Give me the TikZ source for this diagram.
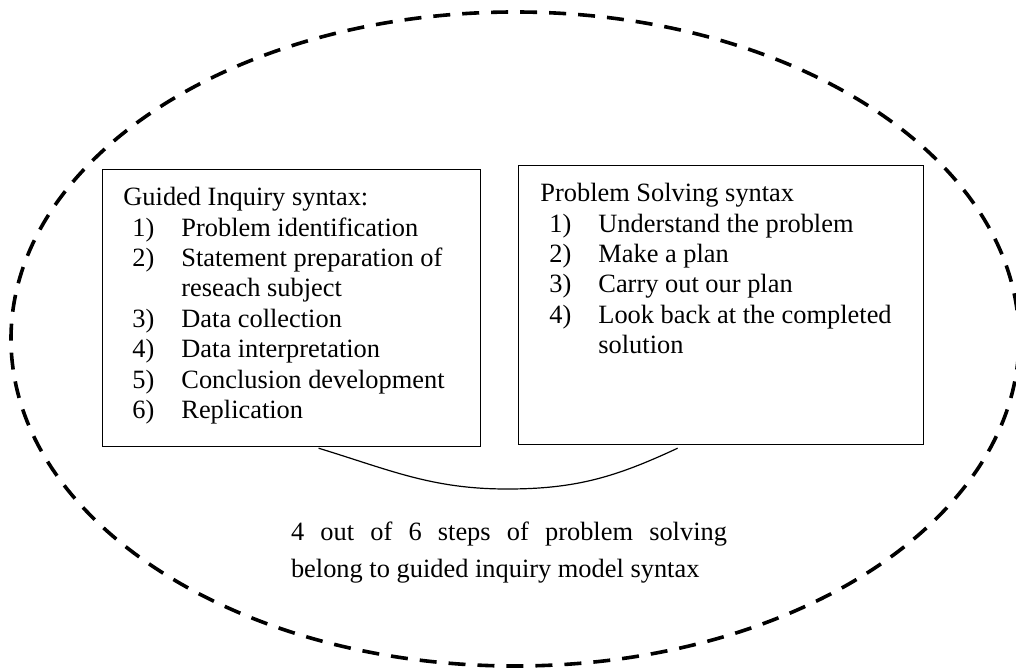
\documentclass[tikz,border=0pt]{standalone}
\usepackage{fontspec}
\setmainfont{Liberation Serif}
\usetikzlibrary{calc}

% numbered step inside a syntax box
\newcommand{\synitem}[2]{\hspace*{4.5pt}\makebox[24.5pt][l]{#1}#2}

\begin{document}
\begin{tikzpicture}[x=0.5pt, y=-0.5pt,
        synbox/.style={draw, line width=0.6pt, rectangle, anchor=north west, inner sep=0pt},
        listtext/.style={anchor=north west, align=left, inner sep=0pt, font=\fontsize{13.2}{15.2}\selectfont},
        ringdash/.style={line width=1.8pt, dash pattern=on 8.5pt off 6pt}
    ]
        \useasboundingbox (0,0) rectangle (1016,668);

        % Dashed ring round everything
        \draw[ringdash] (515,339) ellipse [x radius=252pt, y radius=163.5pt];

        % Syntax boxes
        \node[synbox, minimum width=189pt, minimum height=138.5pt] (guided) at (102,169) {};
        \node[synbox, minimum width=202.5pt, minimum height=139.5pt] (solving) at (518,165) {};

        % Box contents
        \node[listtext] (guidedlist) at (123,187) {Guided Inquiry syntax:\\
            \synitem{1)}{Problem identification}\\
            \synitem{2)}{Statement preparation of}\\
            \hspace*{29pt}reseach subject\\
            \synitem{3)}{Data collection}\\
            \synitem{4)}{Data interpretation}\\
            \synitem{5)}{Conclusion development}\\
            \synitem{6)}{Replication}};
        \node[listtext] (solvinglist) at (540,183) {Problem Solving syntax\\
            \synitem{1)}{Understand the problem}\\
            \synitem{2)}{Make a plan}\\
            \synitem{3)}{Carry out our plan}\\
            \synitem{4)}{Look back at the completed}\\
            \hspace*{29pt}solution};

        % Brace-like curve joining the boxes
        \coordinate (bl) at ($(guided.south)+(27,1)$);
        \coordinate (br) at ($(solving.south)+(-43.5,3)$);
        \draw[line width=0.6pt] (bl) to[out=-17, in=180] (507,489) to[out=0, in=-155] (br);

        % Conclusion text
        \node[anchor=north, inner sep=0pt, text width=218pt, align=justify,
            font=\fontsize{13.2}{18.5}\selectfont] (note) at (509,522)
            {4 out of 6 steps of problem solving\linebreak belong to guided inquiry model syntax};

    \end{tikzpicture}
\end{document}
